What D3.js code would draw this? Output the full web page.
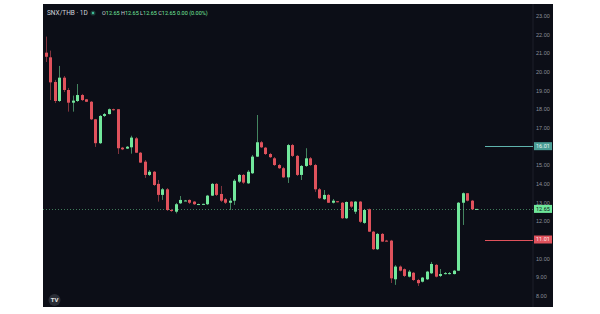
<!DOCTYPE html>
<html>
<head>
<meta charset="utf-8">
<script src="https://cdn.jsdelivr.net/npm/d3@7"></script>
<style>
  body { margin: 0; background: #fff; }
  svg { display: block; font-family: Roboto, "Liberation Sans", sans-serif; }
</style>
</head>
<body>
<svg id="chart"></svg>
<script>
// Daily candles, SNX/THB
const opens = [21.02, 20.77, 19.45, 18.43, 19.68, 19.02, 18.34, 18.43, 18.75, 18.52,
  18.39, 17.45, 16.17, 17.63, 17.73, 17.99, 17.99, 15.93, 15.88, 15.95,
  16.43, 15.66, 15.18, 14.47, 14.64, 13.99, 13.40, 13.70, 12.59, 12.50,
  12.95, 13.09, 13.13, 13.04, 12.90, 12.91, 12.90, 13.36, 13.99, 13.45,
  13.17, 12.98, 13.09, 14.11, 14.47, 14.02, 14.56, 15.45, 16.22, 15.93,
  15.59, 15.36, 15.00, 14.83, 14.34, 16.07, 15.49, 14.47, 14.95, 15.36,
  15.00, 13.70, 13.17, 13.40, 12.98, 13.06, 12.98, 12.15, 13.04, 12.50,
  13.04, 11.90, 12.63, 11.43, 10.49, 11.31, 10.95, 10.95, 8.88, 9.56,
  9.42, 9.02, 9.23, 8.84, 8.75, 8.88, 9.20, 9.65, 9.06, 9.19,
  9.19, 9.16, 9.34, 12.98, 13.49, 13.09, 12.65];
const highs = [21.88, 21.13, 19.56, 20.31, 19.77, 19.13, 18.72, 19.34, 18.81, 18.54,
  18.43, 17.47, 17.68, 17.79, 18.03, 18.02, 18.00, 15.97, 16.02, 16.57,
  16.50, 15.70, 15.27, 14.73, 14.68, 14.20, 13.77, 13.77, 12.65, 12.97,
  13.34, 13.13, 13.16, 13.07, 12.93, 12.93, 13.40, 14.04, 14.04, 13.88,
  13.24, 13.24, 14.25, 14.52, 14.52, 14.73, 15.54, 17.68, 16.29, 15.97,
  15.65, 15.43, 15.06, 14.90, 16.13, 16.13, 15.54, 15.00, 15.90, 15.43,
  15.06, 13.77, 13.66, 13.45, 13.18, 13.07, 13.02, 13.05, 13.07, 13.07,
  13.07, 12.65, 12.67, 11.47, 11.36, 11.36, 10.99, 10.99, 9.64, 9.62,
  9.46, 9.38, 9.27, 8.90, 9.00, 9.33, 9.81, 9.70, 9.43, 9.27,
  9.27, 9.38, 13.02, 13.53, 13.50, 13.13, 12.65];
const lows = [20.52, 18.48, 18.32, 18.38, 18.91, 17.86, 17.86, 18.38, 18.43, 18.38,
  17.41, 15.97, 16.13, 17.57, 17.71, 17.92, 15.59, 15.80, 15.86, 15.61,
  15.65, 15.11, 14.31, 14.41, 13.88, 13.04, 13.13, 12.54, 12.49, 12.41,
  12.91, 13.07, 12.91, 12.86, 12.87, 12.87, 12.86, 13.34, 13.34, 13.02,
  12.91, 12.59, 12.86, 14.04, 13.99, 13.99, 14.52, 15.43, 15.91, 15.54,
  15.38, 14.95, 14.79, 14.31, 14.04, 15.43, 14.41, 14.20, 14.90, 14.95,
  13.56, 13.18, 13.13, 12.97, 12.94, 13.00, 12.11, 12.11, 12.70, 12.38,
  11.90, 11.85, 11.41, 10.45, 10.45, 10.88, 10.91, 8.68, 8.58, 9.30,
  9.00, 8.98, 8.79, 8.52, 8.71, 8.84, 9.16, 8.98, 9.00, 9.14,
  9.14, 9.14, 9.33, 11.79, 13.05, 12.59, 12.65];
const closes = [20.80, 19.43, 18.43, 19.68, 19.02, 18.34, 18.45, 18.75, 18.48, 18.39,
  17.45, 16.17, 17.63, 17.73, 17.99, 17.95, 15.90, 15.84, 15.98, 16.47,
  15.66, 15.13, 14.47, 14.64, 13.93, 13.40, 13.70, 12.59, 12.54, 12.90,
  13.13, 13.10, 12.98, 12.90, 12.91, 12.92, 13.36, 13.99, 13.40, 13.09,
  12.98, 13.09, 14.16, 14.47, 14.06, 14.64, 15.45, 16.22, 15.95, 15.59,
  15.42, 15.00, 14.83, 14.34, 16.07, 15.49, 14.47, 14.95, 15.36, 15.00,
  13.70, 13.22, 13.40, 12.98, 13.09, 13.02, 12.15, 13.02, 12.77, 13.04,
  11.96, 12.59, 11.43, 10.49, 11.31, 10.90, 10.94, 8.93, 9.56, 9.34,
  9.06, 9.29, 8.84, 8.67, 8.97, 9.29, 9.70, 9.02, 9.16, 9.21,
  9.21, 9.34, 12.98, 13.49, 13.09, 12.63, 12.65];

const priceTicks = [8, 9, 10, 12, 13, 14, 15, 17, 18, 19, 20, 21, 22, 23];
const upperLevel = 16.01;
const lowerLevel = 11.01;
const lastPrice = 12.65;

const width = 600, height = 314;
const panel = { x0: 43, y0: 4, x1: 553, y1: 307, axisX: 533 };

const upColor = '#72e89c';
const downColor = '#e0525c';

const svg = d3.select('#chart')
  .attr('width', width)
  .attr('height', height);

// Dark panel
svg.append('rect')
  .attr('x', panel.x0).attr('y', panel.y0)
  .attr('width', panel.x1 - panel.x0).attr('height', panel.y1 - panel.y0)
  .attr('fill', '#0c0e17');

svg.append('line')
  .attr('x1', panel.axisX).attr('x2', panel.axisX)
  .attr('y1', panel.y0).attr('y2', panel.y1)
  .attr('stroke', '#1c1f2a').attr('stroke-width', 1);

const x = d3.scaleLinear().domain([0, opens.length - 1]).range([46, 476]);
const y = d3.scaleLinear().domain([8, 23]).range([295.7, 15.7]);

// Last price dotted line
svg.append('line')
  .attr('x1', panel.x0).attr('x2', panel.axisX)
  .attr('y1', Math.round(y(lastPrice)) + 0.5).attr('y2', Math.round(y(lastPrice)) + 0.5)
  .attr('stroke', '#3f7a5a').attr('stroke-width', 1)
  .attr('stroke-dasharray', '1,2');

// Candles
const candles = svg.append('g')
  .selectAll('g')
  .data(d3.range(opens.length))
  .enter()
  .append('g');

candles.append('line')
  .attr('x1', i => Math.round(x(i)) + 0.5)
  .attr('x2', i => Math.round(x(i)) + 0.5)
  .attr('y1', i => y(highs[i]))
  .attr('y2', i => y(lows[i]))
  .attr('stroke', i => closes[i] >= opens[i] ? upColor : downColor)
  .attr('stroke-opacity', 0.55)
  .attr('stroke-width', 1);

candles.append('rect')
  .attr('x', i => Math.round(x(i)) - 1)
  .attr('width', 3)
  .attr('y', i => y(Math.max(opens[i], closes[i])))
  .attr('height', i => Math.max(1, Math.abs(y(opens[i]) - y(closes[i]))))
  .attr('fill', i => closes[i] >= opens[i] ? upColor : downColor);

// Level lines
const levels = [
  { value: upperLevel, color: '#5fb3ad', box: '#4a9d95', text: '#e8f5f3' },
  { value: lowerLevel, color: '#e0525c', box: '#e0525c', text: '#fde8ea' }
];
levels.forEach(l => {
  const yy = Math.round(y(l.value)) + 0.5;
  svg.append('line')
    .attr('x1', 485).attr('x2', panel.axisX)
    .attr('y1', yy).attr('y2', yy)
    .attr('stroke', l.color).attr('stroke-width', 1);
});

// Price axis
const axis = d3.axisRight(y)
  .tickValues(priceTicks)
  .tickSize(0)
  .tickFormat(d3.format('.2f'));

const axisG = svg.append('g')
  .attr('transform', `translate(${panel.axisX + 3},0)`)
  .call(axis);
axisG.select('.domain').remove();
axisG.selectAll('text')
  .attr('x', 0)
  .attr('fill', '#8b8f9a')
  .attr('font-size', 5.5);

// Price boxes
const boxes = [
  { value: upperLevel, fill: '#4a9d95', text: '#e8f5f3' },
  { value: lowerLevel, fill: '#e0525c', text: '#fde8ea' },
  { value: lastPrice, fill: '#6ee79a', text: '#0c0e17' }
];
boxes.forEach(b => {
  const yy = y(b.value);
  svg.append('rect')
    .attr('x', panel.axisX + 1).attr('y', yy - 4)
    .attr('width', 18).attr('height', 8)
    .attr('fill', b.fill);
  svg.append('text')
    .attr('x', panel.axisX + 3).attr('y', yy)
    .attr('dy', '0.35em')
    .attr('font-size', 5.5)
    .attr('fill', b.text)
    .text(d3.format('.2f')(b.value));
});

// Header
svg.append('text')
  .attr('x', 47).attr('y', 15)
  .attr('font-size', 6.5)
  .attr('fill', '#d1d4dc')
  .text('SNX/THB · 1D');

svg.append('circle')
  .attr('cx', 93).attr('cy', 13).attr('r', 2.6)
  .attr('fill', '#1d3b36');
svg.append('circle')
  .attr('cx', 93).attr('cy', 13).attr('r', 1.2)
  .attr('fill', '#3fbf9a');

const last = opens.length - 1;
const fmt = d3.format('.2f');
const ohlc = svg.append('text')
  .attr('x', 102).attr('y', 15)
  .attr('font-size', 5.5);
[['O', opens[last]], ['H', highs[last]], ['L', lows[last]], ['C', closes[last]]].forEach(([k, v]) => {
  ohlc.append('tspan').attr('fill', '#c9ccd4').text(k);
  ohlc.append('tspan').attr('fill', upColor).text(fmt(v) + ' ');
});
ohlc.append('tspan').attr('fill', upColor).text('0.00 (0.00%)');

// Logo
svg.append('circle')
  .attr('cx', 54.5).attr('cy', 300).attr('r', 6)
  .attr('fill', '#2a2d36');
svg.append('text')
  .attr('x', 54.5).attr('y', 300)
  .attr('dy', '0.35em')
  .attr('text-anchor', 'middle')
  .attr('font-size', 6)
  .attr('font-weight', 'bold')
  .attr('fill', '#e6e6e6')
  .text('TV');
</script>
</body>
</html>
